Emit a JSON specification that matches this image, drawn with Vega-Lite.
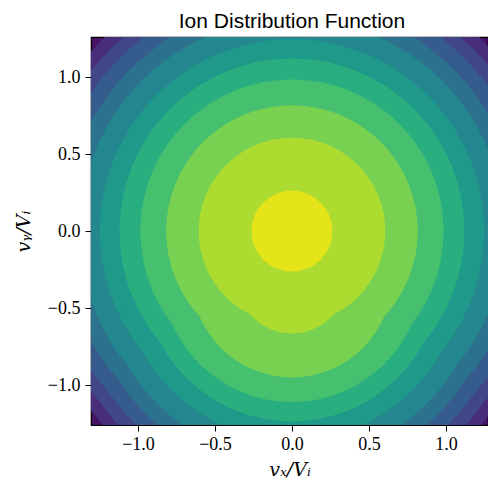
{
  "$schema": "https://vega.github.io/schema/vega-lite/v6.json",
  "autosize": {"type": "none"},
  "padding": {"left": 91, "top": 37, "right": 0, "bottom": 54},
  "width": 397,
  "height": 388,
  "title": {"text": "Ion Distribution Function", "font": "Liberation Sans", "fontSize": 21, "fontWeight": "normal", "color": "#000000", "offset": 5.5, "dx": 2.5},
  "config": {
    "view": {"fill": "#471164", "stroke": "#000000", "strokeWidth": 1.2},
    "axis": {"grid": false, "domain": false, "tickColor": "#000000", "tickSize": 6, "tickWidth": 1, "labelFont": "Liberation Serif", "labelFontSize": 18, "labelColor": "#000000", "titleFont": "DejaVu Serif", "titleFontStyle": "italic", "titleFontWeight": "normal", "titleFontSize": 19, "titleColor": "#000000"}
  },
  "data": {"values": [
    {"level": 11, "part": "main", "cx": 0, "cy": 0, "r": 1.75},
    {"level": 11, "part": "beam", "cx": 0, "cy": -0.25, "r": 1.59},
    {"level": 10, "part": "main", "cx": 0, "cy": 0, "r": 1.67},
    {"level": 10, "part": "beam", "cx": 0, "cy": -0.25, "r": 1.515},
    {"level": 9, "part": "main", "cx": 0, "cy": 0, "r": 1.585},
    {"level": 9, "part": "beam", "cx": 0, "cy": -0.25, "r": 1.43},
    {"level": 8, "part": "main", "cx": 0, "cy": 0, "r": 1.485},
    {"level": 8, "part": "beam", "cx": 0, "cy": -0.25, "r": 1.335},
    {"level": 7, "part": "main", "cx": 0, "cy": 0, "r": 1.38},
    {"level": 7, "part": "beam", "cx": 0, "cy": -0.25, "r": 1.235},
    {"level": 6, "part": "main", "cx": 0, "cy": 0, "r": 1.247},
    {"level": 6, "part": "beam", "cx": 0, "cy": -0.25, "r": 1.107},
    {"level": 5, "part": "main", "cx": 0, "cy": 0, "r": 1.12},
    {"level": 5, "part": "beam", "cx": 0, "cy": -0.265, "r": 0.971},
    {"level": 4, "part": "main", "cx": 0, "cy": 0, "r": 0.985},
    {"level": 4, "part": "beam", "cx": 0, "cy": -0.259, "r": 0.851},
    {"level": 3, "part": "main", "cx": 0, "cy": 0, "r": 0.817},
    {"level": 3, "part": "beam", "cx": 0, "cy": -0.298, "r": 0.652},
    {"level": 2, "part": "main", "cx": 0, "cy": 0, "r": 0.606},
    {"level": 2, "part": "beam", "cx": 0, "cy": -0.307, "r": 0.358},
    {"level": 1, "part": "main", "cx": 0, "cy": 0, "r": 0.263}
  ]},
  "mark": {"type": "point", "shape": "circle", "filled": true, "opacity": 1, "strokeWidth": 0, "clip": true},
  "encoding": {
    "x": {"field": "cx", "type": "quantitative", "scale": {"domain": [-1.305, 1.273], "nice": false, "zero": false},
      "axis": {"values": [-1, -0.5, 0, 0.5, 1], "format": ".1f", "title": "vₓ/Vᵢ", "labelPadding": 4, "titlePadding": 7}},
    "y": {"field": "cy", "type": "quantitative", "scale": {"domain": [-1.259, 1.26], "nice": false, "zero": false},
      "axis": {"values": [-1, -0.5, 0, 0.5, 1], "format": ".1f", "title": "vᵧ/Vᵢ", "labelPadding": 5, "titlePadding": 14}},
    "size": {"field": "r", "type": "quantitative", "scale": {"type": "pow", "exponent": 2, "domain": [0, 2], "range": [0, 379456], "zero": true}, "legend": null},
    "color": {"field": "level", "type": "ordinal", "scale": {"domain": [1, 2, 3, 4, 5, 6, 7, 8, 9, 10, 11], "range": ["#e4e419", "#addc30", "#78d151", "#46c06f", "#29af7f", "#1f9a8a", "#24868e", "#2c718e", "#365c8d", "#404688", "#472d7b"]}, "legend": null},
    "order": {"field": "level", "type": "quantitative", "sort": "descending"}
  }
}
